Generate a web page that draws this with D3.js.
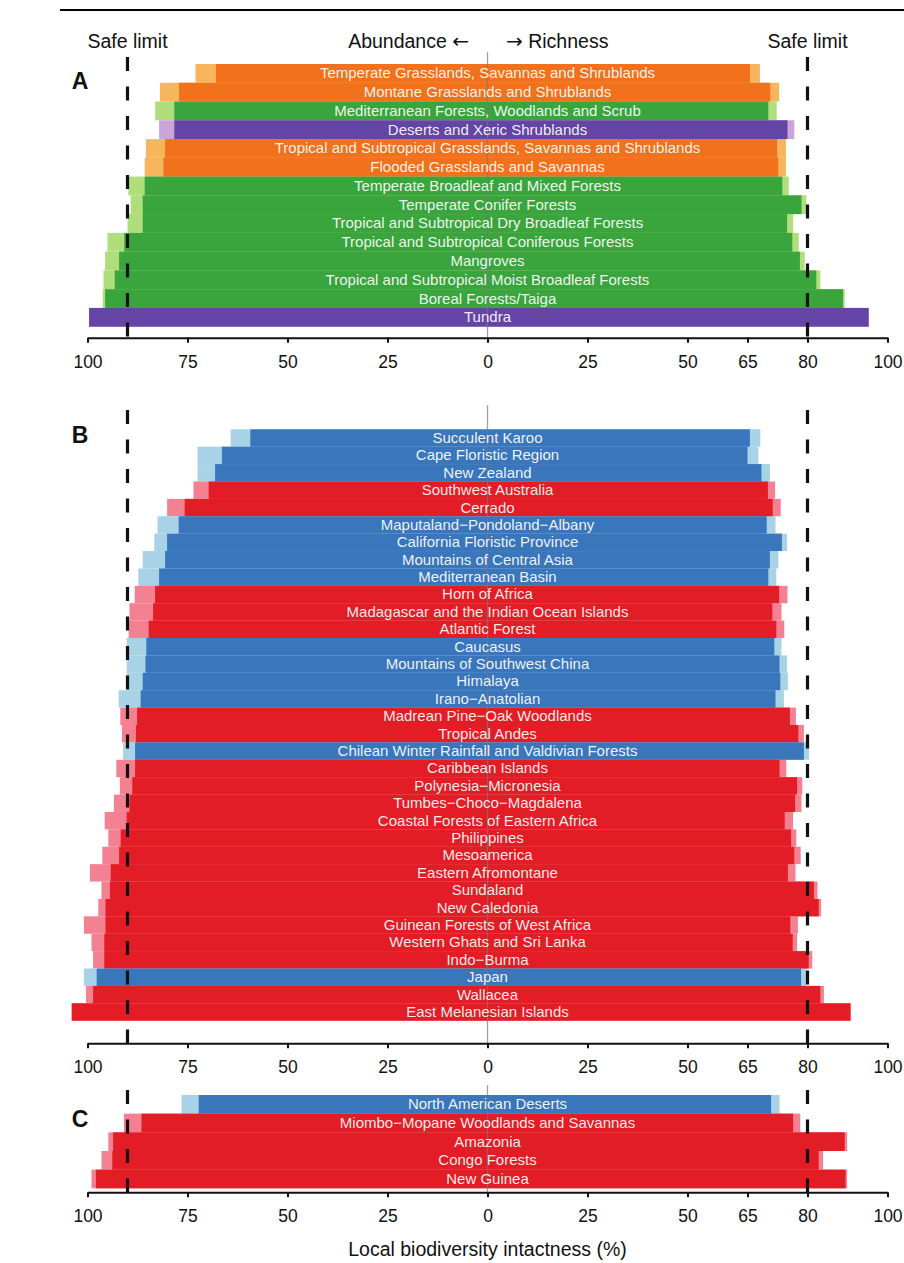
<!DOCTYPE html>
<html>
<head>
<meta charset="utf-8">
<script src="https://cdn.jsdelivr.net/npm/d3@7"></script>
<style>
body { margin: 0; background: #fff; }
svg text { font-family: "Liberation Sans", Arial, sans-serif; }
</style>
</head>
<body>
<div id="grafico"></div>
<script>
/////////// DATA /////////
// A: biomes
var biomas = ["Temperate Grasslands, Savannas and Shrublands", "Montane Grasslands and Shrublands",
  "Mediterranean Forests, Woodlands and Scrub", "Deserts and Xeric Shrublands",
  "Tropical and Subtropical Grasslands, Savannas and Shrublands", "Flooded Grasslands and Savannas",
  "Temperate Broadleaf and Mixed Forests", "Temperate Conifer Forests",
  "Tropical and Subtropical Dry Broadleaf Forests", "Tropical and Subtropical Coniferous Forests",
  "Mangroves", "Tropical and Subtropical Moist Broadleaf Forests", "Boreal Forests/Taiga", "Tundra"];
var biomasTipo = ["grass", "grass", "forest", "desert", "grass", "grass", "forest", "forest",
  "forest", "forest", "forest", "forest", "forest", "desert"];
var biomasAbund    = [67.9, 77.1, 78.3, 78.3, 80.6, 81.0, 85.7, 86.2, 86.2, 90.8, 92.1, 93.2, 95.6, 99.6];
var biomasAbundSup = [73.0, 81.9, 83.1, 82.1, 85.4, 85.7, 89.8, 89.2, 90.0, 95.0, 95.6, 96.0, 96.2, 99.6];
var biomasRiq      = [65.6, 70.7, 70.2, 75.0, 72.4, 72.7, 73.7, 78.5, 74.9, 76.2, 78.1, 82.2, 88.9, 95.3];
var biomasRiqSup   = [68.1, 72.9, 72.3, 76.7, 74.6, 74.6, 75.3, 79.7, 76.4, 77.8, 79.3, 83.2, 89.3, 95.3];

// B: hotspots
var hotspots = ["Succulent Karoo", "Cape Floristic Region", "New Zealand", "Southwest Australia", "Cerrado",
  "Maputaland\u2212Pondoland\u2212Albany", "California Floristic Province", "Mountains of Central Asia",
  "Mediterranean Basin", "Horn of Africa", "Madagascar and the Indian Ocean Islands", "Atlantic Forest",
  "Caucasus", "Mountains of Southwest China", "Himalaya", "Irano\u2212Anatolian",
  "Madrean Pine\u2212Oak Woodlands", "Tropical Andes", "Chilean Winter Rainfall and Valdivian Forests",
  "Caribbean Islands", "Polynesia\u2212Micronesia", "Tumbes\u2212Choco\u2212Magdalena",
  "Coastal Forests of Eastern Africa", "Philippines", "Mesoamerica", "Eastern Afromontane", "Sundaland",
  "New Caledonia", "Guinean Forests of West Africa", "Western Ghats and Sri Lanka", "Indo\u2212Burma",
  "Japan", "Wallacea", "East Melanesian Islands"];
var hotspotsTipo = ["b", "b", "b", "r", "r", "b", "b", "b", "b", "r", "r", "r", "b", "b", "b", "b",
  "r", "r", "b", "r", "r", "r", "r", "r", "r", "r", "r", "r", "r", "r", "r", "b", "r", "r"];
var hotspotsAbund    = [59.3, 66.4, 68.1, 69.7, 75.7, 77.2, 80.1, 80.6, 82.1, 83.1, 83.6, 84.7, 85.3, 85.5,
  86.2, 86.7, 87.6, 87.9, 88.1, 88.1, 88.8, 89.5, 90.2, 91.7, 92.1, 94.2, 94.4, 95.5, 95.5, 95.8, 95.8,
  97.7, 98.6, 103.9];
var hotspotsAbundSup = [64.2, 72.5, 72.5, 73.5, 80.1, 82.5, 83.3, 86.2, 87.3, 88.2, 89.5, 89.7, 90.2, 90.2,
  90.2, 92.2, 91.8, 91.4, 91.1, 92.8, 91.9, 93.4, 95.7, 94.8, 96.3, 99.4, 96.5, 97.3, 100.9, 99.0, 98.6,
  100.9, 100.4, 104.0];
var hotspotsRiq      = [65.6, 65.0, 68.5, 70.1, 71.3, 69.8, 73.6, 70.6, 70.2, 72.9, 71.2, 72.2, 71.7, 73.0,
  73.2, 72.0, 75.6, 77.7, 79.1, 73.0, 77.4, 76.9, 74.3, 75.9, 76.7, 75.1, 81.6, 82.8, 75.7, 76.3, 80.3,
  78.4, 83.2, 90.7];
var hotspotsRiqSup   = [68.2, 67.7, 70.6, 71.9, 73.3, 72.0, 74.9, 72.7, 72.2, 75.0, 73.5, 74.2, 73.5, 74.9,
  75.1, 74.1, 77.1, 79.1, 80.4, 74.7, 78.7, 78.5, 76.4, 77.2, 78.3, 77.0, 82.5, 83.4, 77.6, 77.4, 81.2,
  79.7, 84.1, 90.9];

// C: wilderness areas
var zonas = ["North American Deserts", "Miombo\u2212Mopane Woodlands and Savannas", "Amazonia",
  "Congo Forests", "New Guinea"];
var zonasTipo = ["b", "r", "r", "r", "r"];
var zonasAbund    = [72.2, 86.5, 93.6, 93.8, 97.9];
var zonasAbundSup = [76.5, 90.9, 94.8, 96.5, 99.0];
var zonasRiq      = [70.9, 76.4, 89.3, 82.8, 89.5];
var zonasRiqSup   = [73.0, 78.2, 89.9, 83.9, 89.9];

var ticksIzq = [100, 75, 50, 25, 0];
var ticksDer = [25, 50, 65, 80, 100];
var limiteAbund = 90, limiteRiq = 80;

/////////// SVG /////////
var width = 904, height = 1263;
var svg = d3.select("#grafico").append("svg")
  .attr("width", width)
  .attr("height", height);

svg.append("line").attr("x1", 60).attr("x2", 904).attr("y1", 10).attr("y2", 10)
  .attr("stroke", "#000").attr("stroke-width", 2);

// scales: abundance goes left, richness goes right
var centro = 487.5;
var xIzq = d3.scaleLinear().domain([0, 100]).range([centro, centro - 400]);
var xDer = d3.scaleLinear().domain([0, 100]).range([centro, centro + 400]);

var colores = {
  grass:  d3.scaleOrdinal().domain(["dark", "light"]).range(["#f2711c", "#f8b65c"]),
  forest: d3.scaleOrdinal().domain(["dark", "light"]).range(["#3aa43d", "#afde7b"]),
  desert: d3.scaleOrdinal().domain(["dark", "light"]).range(["#6445a5", "#c9a6d7"]),
  b:      d3.scaleOrdinal().domain(["dark", "light"]).range(["#3a76bb", "#a8d2e5"]),
  r:      d3.scaleOrdinal().domain(["dark", "light"]).range(["#e21d25", "#f48191"])
};

function panel(nombres, tipos, abund, abundSup, riq, riqSup, yTop, yBottom, yEje, yLinea, letra, yLetra) {
  var datos = nombres.map(function(n, i) {
    return {nombre: n, tipo: tipos[i], a: abund[i], aSup: abundSup[i], r: riq[i], rSup: riqSup[i]};
  });

  var y = d3.scaleBand().domain(nombres).range([yTop, yBottom]).padding(0);
  var g = svg.append("g");

  // light bars (upper) and dark bars
  g.selectAll(".claro").data(datos).enter().append("rect")
    .attr("x", function(d) { return xIzq(d.aSup); })
    .attr("width", function(d) { return xDer(d.rSup) - xIzq(d.aSup); })
    .attr("y", function(d) { return y(d.nombre); })
    .attr("height", y.bandwidth())
    .attr("fill", function(d) { return colores[d.tipo]("light"); });

  g.selectAll(".oscuro").data(datos).enter().append("rect")
    .attr("x", function(d) { return xIzq(d.a); })
    .attr("width", function(d) { return xDer(d.r) - xIzq(d.a); })
    .attr("y", function(d) { return y(d.nombre); })
    .attr("height", y.bandwidth())
    .attr("fill", function(d) { return colores[d.tipo]("dark"); });

  // center line
  g.append("line")
    .attr("x1", centro).attr("x2", centro)
    .attr("y1", yLinea).attr("y2", yEje)
    .attr("stroke", "#777").attr("stroke-opacity", 0.7).attr("stroke-width", 1.3);

  // labels
  g.selectAll(".etiqueta").data(datos).enter().append("text")
    .attr("x", centro)
    .attr("y", function(d) { return y(d.nombre) + y.bandwidth() / 2; })
    .attr("dy", "0.33em")
    .attr("text-anchor", "middle")
    .attr("font-size", "15px")
    .attr("fill", "#fff")
    .attr("fill-opacity", 0.92)
    .text(function(d) { return d.nombre; });

  // axis
  var ejeIzq = g.append("g").attr("transform", "translate(0," + yEje + ")")
    .call(d3.axisBottom(xIzq).tickValues(ticksIzq).tickSize(5).tickSizeOuter(0));
  var ejeDer = g.append("g").attr("transform", "translate(0," + yEje + ")")
    .call(d3.axisBottom(xDer).tickValues(ticksDer).tickSize(5).tickSizeOuter(0));
  [ejeIzq, ejeDer].forEach(function(e) {
    e.select(".domain").attr("stroke", "#111").attr("stroke-width", 2);
    e.selectAll(".tick line").attr("stroke", "#111").attr("stroke-width", 2);
    e.selectAll(".tick text")
      .attr("y", 17.5)
      .attr("font-size", "17.5px")
      .attr("font-family", "Liberation Sans, Arial, sans-serif")
      .attr("fill", "#111");
  });

  // safe limits
  [xIzq(limiteAbund), xDer(limiteRiq)].forEach(function(xs) {
    g.append("line")
      .attr("x1", xs).attr("x2", xs)
      .attr("y1", yLinea + 5).attr("y2", yEje + 1)
      .attr("stroke", "#111")
      .attr("stroke-width", 3.2)
      .attr("stroke-dasharray", "14,15.5");
  });

  // panel letter
  g.append("text")
    .attr("x", 80).attr("y", yLetra)
    .attr("text-anchor", "middle")
    .attr("font-family", "Liberation Sans Narrow, Arial Narrow, sans-serif")
    .attr("font-weight", "bold")
    .attr("font-size", "23px")
    .attr("fill", "#111")
    .text(letra);
}

panel(biomas, biomasTipo, biomasAbund, biomasAbundSup, biomasRiq, biomasRiqSup, 64, 326.7, 337.7, 52, "A", 89);
panel(hotspots, hotspotsTipo, hotspotsAbund, hotspotsAbundSup, hotspotsRiq, hotspotsRiqSup, 429.3, 1020.7, 1043.3, 405, "B", 442.7);
panel(zonas, zonasTipo, zonasAbund, zonasAbundSup, zonasRiq, zonasRiqSup, 1095, 1188.3, 1192.3, 1085, "C", 1126.7);

/////////// TITLES /////////
svg.append("text").attr("x", xIzq(limiteAbund)).attr("y", 48).attr("text-anchor", "middle")
  .attr("font-size", "19.5px").attr("fill", "#111").text("Safe limit");
svg.append("text").attr("x", xDer(limiteRiq)).attr("y", 48).attr("text-anchor", "middle")
  .attr("font-size", "19.5px").attr("fill", "#111").text("Safe limit");

var abund = svg.append("text").attr("x", 469).attr("y", 48).attr("text-anchor", "end")
  .attr("font-size", "19.5px").attr("fill", "#111");
abund.append("tspan").text("Abundance ");
abund.append("tspan").attr("font-family", "DejaVu Sans").attr("font-size", "20px").text("\u2190");

var riq = svg.append("text").attr("x", 506).attr("y", 48).attr("text-anchor", "start")
  .attr("font-size", "19.5px").attr("fill", "#111");
riq.append("tspan").attr("font-family", "DejaVu Sans").attr("font-size", "20px").text("\u2192");
riq.append("tspan").text(" Richness");

svg.append("text").attr("x", centro).attr("y", 1256).attr("text-anchor", "middle")
  .attr("font-size", "19.5px").attr("fill", "#111").text("Local biodiversity intactness (%)");
</script>
</body>
</html>
